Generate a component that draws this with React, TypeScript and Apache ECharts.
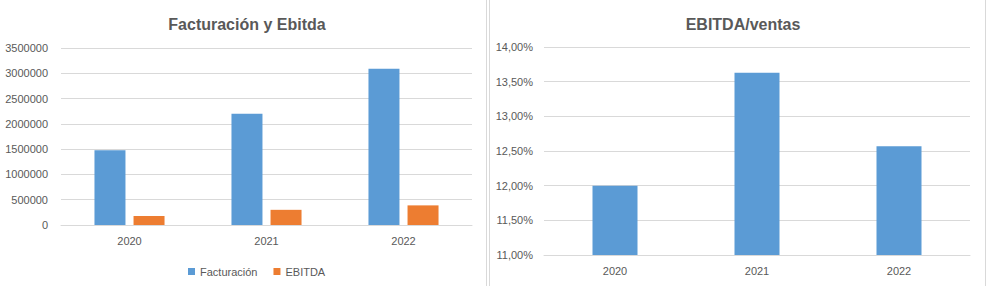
import React, { useEffect, useRef } from "react";
import * as echarts from "echarts";

const years = ["2020", "2021", "2022"];
const facturacion = [1480000, 2200000, 3090000];
const ebitda = [178000, 300000, 388000];
const ratio = [12.0, 13.63, 12.57];

const FONT = "Liberation Sans";
const TXT = "#595959";
const GRID = "#d9d9d9";

export default function App() {
  const ref = useRef<HTMLDivElement>(null);
  useEffect(() => {
    document.body.style.margin = "0";
    const chart = echarts.init(ref.current!, null, { renderer: "svg" });
    const axisLabel = { color: TXT, fontFamily: FONT, fontSize: 11 };
    chart.setOption({
      animation: false,
      textStyle: { fontFamily: FONT },
      title: [
        {
          text: "Facturación y Ebitda",
          left: 242,
          top: 11,
          textAlign: "center",
          textStyle: { color: TXT, fontFamily: FONT, fontSize: 16, fontWeight: "bold" },
        },
        {
          text: "EBITDA/ventas",
          left: 738,
          top: 11,
          textAlign: "center",
          textStyle: { color: TXT, fontFamily: FONT, fontSize: 16, fontWeight: "bold" },
        },
      ],
      legend: {
        left: 183,
        top: 261,
        itemWidth: 7,
        itemHeight: 7,
        itemGap: 16,
        icon: "rect",
        textStyle: { color: TXT, fontFamily: FONT, fontSize: 11 },
        data: ["Facturación", "EBITDA"],
        orient: "horizontal",
      },
      grid: [
        { left: 61, top: 48, width: 411, height: 177 },
        { left: 544, top: 47, width: 426, height: 208 },
      ],
      xAxis: [
        {
          type: "category",
          gridIndex: 0,
          data: years,
          axisLine: { lineStyle: { color: GRID } },
          axisTick: { show: false },
          axisLabel: { ...axisLabel, margin: 10 },
        },
        {
          type: "category",
          gridIndex: 1,
          data: years,
          axisLine: { lineStyle: { color: GRID } },
          axisTick: { show: false },
          axisLabel: { ...axisLabel, margin: 10 },
        },
      ],
      yAxis: [
        {
          type: "value",
          gridIndex: 0,
          min: 0,
          max: 3500000,
          interval: 500000,
          axisLine: { show: false },
          axisTick: { show: false },
          splitLine: { lineStyle: { color: GRID } },
          axisLabel: { ...axisLabel, margin: 13, formatter: (v: number) => String(v) },
        },
        {
          type: "value",
          gridIndex: 1,
          min: 11,
          max: 14,
          interval: 0.5,
          axisLine: { show: false },
          axisTick: { show: false },
          splitLine: { lineStyle: { color: GRID } },
          axisLabel: {
            ...axisLabel,
            margin: 11,
            formatter: (v: number) => v.toFixed(2).replace(".", ",") + "%",
          },
        },
      ],
      series: [
        {
          name: "Facturación",
          type: "bar",
          xAxisIndex: 0,
          yAxisIndex: 0,
          data: facturacion,
          barWidth: 31,
          barGap: "26%",
          itemStyle: { color: "#5b9bd5" },
        },
        {
          name: "EBITDA",
          type: "bar",
          xAxisIndex: 0,
          yAxisIndex: 0,
          data: ebitda,
          barWidth: 31,
          barGap: "26%",
          itemStyle: { color: "#ed7d31" },
        },
        {
          name: "EBITDA/ventas",
          type: "bar",
          xAxisIndex: 1,
          yAxisIndex: 1,
          data: ratio,
          barWidth: 45,
          itemStyle: { color: "#5b9bd5" },
        },
      ],
      graphic: [
        { type: "line", shape: { x1: 486.5, y1: 0, x2: 486.5, y2: 286 }, style: { stroke: "#d9d9d9", lineWidth: 1 } },
        { type: "line", shape: { x1: 489.5, y1: 0, x2: 489.5, y2: 286 }, style: { stroke: "#d9d9d9", lineWidth: 1 } },
        { type: "line", shape: { x1: 985.5, y1: 0, x2: 985.5, y2: 286 }, style: { stroke: "#d9d9d9", lineWidth: 1 } },
      ],
    });
    return () => chart.dispose();
  }, []);
  return <div ref={ref} style={{ width: 988, height: 286 }} />;
}
